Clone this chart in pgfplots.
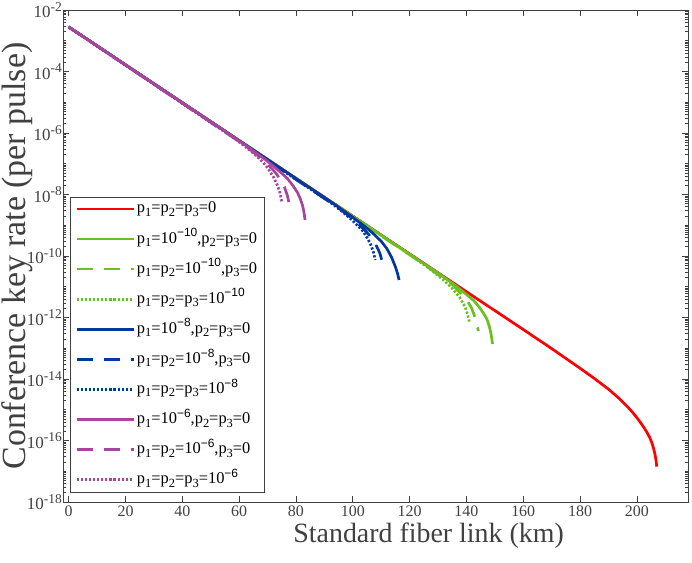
\documentclass[border=0pt]{standalone}
\usepackage{fontspec}
\setmainfont{Liberation Serif}
\newfontfamily\supf{Liberation Sans}
\usepackage{pgfplots}
\pgfplotsset{compat=1.18}
\definecolor{cred}{rgb}{1,0,0}
\definecolor{cgreen}{rgb}{0.42,0.75,0.13}
\definecolor{cblue}{rgb}{0.0,0.22,0.62}
\definecolor{cpurp}{rgb}{0.66,0.27,0.62}
\definecolor{axc}{rgb}{0.25,0.25,0.25}
\newcommand\psub[1]{\raisebox{-0.45ex}{\fontsize{12.5}{13}\selectfont #1}}
\newcommand\psup[1]{\raisebox{0.85ex}{\fontsize{12}{13}\selectfont\supf #1}}
\newcommand\ysup[1]{\raisebox{0.85ex}{\fontsize{13.5}{14}\selectfont #1}}
\def\mt{}
\foreach \e in {-18,...,-3}{\foreach \m in {1,...,9}{\xdef\mt{\mt\m e\e,}}}
\xdef\mt{\mt 1e-2}
\begin{document}
\begin{tikzpicture}
\useasboundingbox (-63bp,-61bp) rectangle (629bp,502bp);
\begin{axis}[
  scale only axis, width=625bp, height=492bp,
  xmin=-2, xmax=218, ymin=1e-18, ymax=1e-2,
  ymode=log, log basis y=10,
  axis line style={axc, line width=0.6bp},
  tick style={axc, line width=0.6bp},
  major tick length=6bp, minor tick length=3bp,
  tick align=inside,
  xtick={0,20,...,200},
  ytick={1e-18,1e-16,1e-14,1e-12,1e-10,1e-8,1e-6,1e-4,1e-2},
  minor ytick/.expanded={\mt},
  yticklabel={10\ysup{\pgfmathparse{int(round(\tick))}\pgfmathresult}},
  xticklabel style={font=\fontsize{16}{19}\selectfont, text=axc},
  yticklabel style={font=\fontsize{17}{20}\selectfont, text=axc, inner sep=1bp},
  /pgf/number format/assume math mode=true,
  xlabel={Standard fiber link (km)},
  ylabel={Conference key rate (per pulse)},
  every axis x label/.style={at={(axis description cs:0.585,-0.0833)}, anchor=base, font=\fontsize{28}{32}\selectfont, text=axc},
  every axis y label/.style={at={(axis description cs:-0.073,0.5)}, rotate=90, anchor=center, font=\fontsize{34}{38}\selectfont, text=axc},
  legend cell align=left,
  legend image code/.code={\draw[#1] (0bp,0bp) -- (57bp,0bp);},
  legend style={at={(0.0112,0.0203)}, anchor=south west, draw=axc, fill=white,
    font=\fontsize{16.5}{20}\selectfont, inner xsep=5bp, inner ysep=3bp, row sep=12.1bp,
    nodes={text height=13bp, text depth=5bp, inner xsep=2bp, inner ysep=0bp}},
  every axis plot/.append style={line width=2.7bp},
  dashst/.style={dash pattern=on 16bp off 11bp},
  dotst/.style={dash pattern=on 2.2bp off 1.9bp},
]
% red
\addplot[cred] coordinates {(0,2.818e-3) (100,1.995e-9) (140,6.918e-12) (160,4.074e-13) (170,9.772e-14) (180,2.239e-14) (185,1.047e-14) (190,4.677e-15) (194,2.239e-15) (197,1.175e-15) (199,7.244e-16) (201,4.169e-16) (202.5,2.630e-16) (203.7,1.738e-16) (204.6,1.202e-16) (205.3,8.318e-17) (205.9,5.495e-17) (206.4,3.467e-17) (206.8,2.089e-17) (207,1.413e-17)};
\addlegendentry{{p\psub{1}=p\psub{2}=p\psub{3}=0}}
% green
\addplot[cgreen] coordinates {(0,2.818e-3) (125,5.623e-11) (130,2.818e-11) (136.6,1.023e-11) (140,5.623e-12) (142.5,3.631e-12) (144.5,2.188e-12) (146,1.380e-12) (147.2,8.913e-13) (148.1,5.012e-13) (148.7,2.818e-13) (149.2,1.380e-13)};
\addlegendentry{{p\psub{1}=10\psup{−10},p\psub{2}=p\psub{3}=0}}
\addplot[cgreen, dashst] coordinates {(0,2.818e-3) (125,5.408e-11) (130,2.512e-11) (135.4,1.122e-11) (138,6.026e-12) (140.1,3.802e-12) (141.8,2.042e-12) (143.4,8.318e-13) (144.2,3.631e-13)};
\addlegendentry{{p\psub{1}=p\psub{2}=10\psup{−10},p\psub{3}=0}}
\addplot[cgreen, dotst] coordinates {(0,2.818e-3) (120,1.122e-10) (125,5.248e-11) (128,3.311e-11) (132,1.622e-11) (135,8.913e-12) (137.8,4.266e-12) (139.5,2.239e-12) (140.4,1.318e-12) (141.1,6.761e-13)};
\addlegendentry{{p\psub{1}=p\psub{2}=p\psub{3}=10\psup{−10}}}
% blue
\addplot[cblue] coordinates {(0,2.818e-3) (90,8.035e-9) (95,3.873e-9) (100,1.811e-9) (104,9.506e-10) (107,5.585e-10) (110,3.020e-10) (112,1.738e-10) (113.7,8.913e-11) (115,4.467e-11) (115.8,2.630e-11) (116.3,1.660e-11)};
\addlegendentry{{p\psub{1}=10\psup{−8},p\psub{2}=p\psub{3}=0}}
\addplot[cblue, dashst] coordinates {(0,2.818e-3) (95,3.656e-9) (100,1.600e-9) (104,7.345e-10) (107.3,3.311e-10) (109,1.585e-10) (109.6,1.175e-10) (110.2,7.413e-11)};
\addlegendentry{{p\psub{1}=p\psub{2}=10\psup{−8},p\psub{3}=0}}
\addplot[cblue, dotst] coordinates {(0,2.818e-3) (92,5.610e-9) (96,2.938e-9) (100,1.416e-9) (103.7,6.310e-10) (106.1,2.630e-10) (107.2,1.413e-10) (107.9,7.413e-11)};
\addlegendentry{{p\psub{1}=p\psub{2}=p\psub{3}=10\psup{−8}}}
% purple
\addplot[cpurp] coordinates {(0,2.818e-3) (55,1.148e-6) (62,4.169e-7) (66,2.239e-7) (69,1.413e-7) (72,8.511e-8) (75,4.898e-8) (77,3.311e-8) (79,1.905e-8) (80.5,1.175e-8) (81.5,7.413e-9) (82.3,4.467e-9) (82.8,2.754e-9) (83.2,1.479e-9)};
\addlegendentry{{p\psub{1}=10\psup{−6},p\psub{2}=p\psub{3}=0}}
\addplot[cpurp, dashst] coordinates {(0,2.818e-3) (60,5.321e-7) (65,2.410e-7) (68,1.429e-7) (71,7.852e-8) (73,4.864e-8) (75,2.630e-8) (76,1.706e-8) (77,9.120e-9) (77.5,5.649e-9) (77.9,2.951e-9)};
\addlegendentry{{p\psub{1}=p\psub{2}=10\psup{−6},p\psub{3}=0}}
\addplot[cpurp, dotst] coordinates {(0,2.818e-3) (58,7.015e-7) (62,3.707e-7) (65,2.208e-7) (68,1.225e-7) (70,7.413e-8) (72,3.802e-8) (73.5,1.995e-8) (74.3,1.202e-8) (75,5.888e-9)};
\addlegendentry{{p\psub{1}=p\psub{2}=p\psub{3}=10\psup{−6}}}
\end{axis}
\end{tikzpicture}
\end{document}
